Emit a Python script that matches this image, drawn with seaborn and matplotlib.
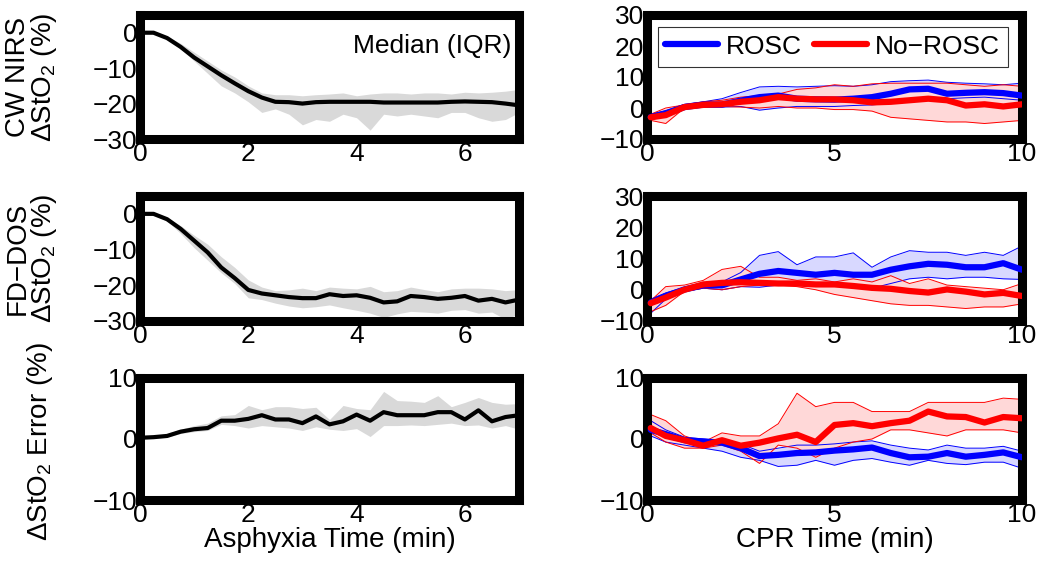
"""
plot.py - StO2 change during asphyxia and CPR (CW NIRS vs FD-DOS).
Saves out.png.
"""
import numpy as np
import matplotlib
matplotlib.use('Agg')
import matplotlib.pyplot as plt
import seaborn as sns

# ---- Data ---------------------------------------------------------------
asph_t = [0, 0.25, 0.5, 0.75, 1.0, 1.25, 1.5, 1.75, 2.0, 2.25, 2.5, 2.75, 3.0, 3.25,
          3.5, 3.75, 4.0, 4.25, 4.5, 4.75, 5.0, 5.25, 5.5, 5.75, 6.0, 6.25, 6.5, 6.75, 7.0]

cw_med = [0, 0, -1.5, -4, -7, -9.5, -12, -14.3, -16.5, -18.3, -19.5, -19.6, -20, -19.6,
          -19.5, -19.5, -19.5, -19.5, -19.7, -19.7, -19.7, -19.7, -19.7, -19.5, -19.4,
          -19.5, -19.6, -20, -20.5]
cw_q1 = [0, -0.2, -1.8, -4.5, -8, -11.5, -15, -17, -19.5, -22.5, -21.5, -23, -26, -24.5,
         -25, -23, -24, -27.5, -23, -23.5, -23, -23.5, -24, -22.5, -22.5, -24, -25, -24.5, -22.5]
cw_q3 = [0, 0, -1, -3, -5.5, -8, -10.5, -12.5, -15, -17, -17.5, -17.5, -17.8, -17.5,
         -17.3, -17, -17.8, -17.3, -17, -17, -17.3, -17, -17, -17.3, -16.8, -17, -16.8, -16.5, -16]

fd_med = [0, 0, -1.5, -4.2, -7.5, -10.8, -15, -18, -21.3, -22.3, -22.8, -23.3, -23.6, -23.6,
          -22.5, -23, -22.8, -23.5, -24.8, -24.5, -23, -23.3, -23.8, -23.5, -23, -24.3,
          -23.8, -24.8, -24]
fd_q1 = [0, -0.3, -2, -5.5, -9.5, -13, -16.5, -19.5, -23.5, -24, -25, -25.8, -26.3, -26,
         -25.5, -26.3, -27, -27.8, -29, -28, -27.3, -27.5, -27.8, -27, -26.8, -27.8, -27.5, -29.5, -28]
fd_q3 = [0, 0, -1, -3.3, -6, -8.5, -12, -15, -18.5, -20.5, -21.5, -21.3, -20.8, -21.5,
         -20.5, -20.8, -21, -20.3, -21.8, -21.5, -20.5, -21.2, -21.8, -21, -20.8, -20.8, -21, -21.5, -21.2]

err_med = [0.2, 0.3, 0.5, 1.2, 1.6, 1.8, 3.0, 3.0, 3.3, 3.9, 3.2, 3.2, 2.6, 3.7, 2.4, 2.9,
           4.0, 3.0, 4.4, 3.9, 3.9, 3.9, 4.4, 4.4, 3.2, 4.7, 2.9, 3.6, 3.9]
err_q1 = [0, 0.1, 0.3, 0.9, 1.2, 1.4, 2.4, 2.2, 1.8, 2.2, 2.0, 1.8, 1.4, 2.0, 1.6, 1.4,
          1.7, 0.4, 2.2, 2.2, 2.3, 2.2, 2.4, 2.6, 2.2, 2.3, 1.8, 2.2, 1.6]
err_q3 = [0.3, 0.5, 0.9, 1.6, 2.2, 2.6, 3.8, 4.0, 5.5, 4.8, 5.3, 5.3, 5.0, 5.2, 3.2, 5.5,
          5.0, 4.8, 7.8, 6.3, 6.2, 6.0, 7.1, 5.3, 6.0, 6.8, 6.0, 5.7, 5.8]

cpr_t = [0.1, 0.5, 1.0, 1.5, 2.0, 2.5, 3.0, 3.5, 4.0, 4.5, 5.0, 5.5, 6.0, 6.5, 7.0,
         7.5, 8.0, 8.5, 9.0, 9.5, 10.0]

cw_rosc = [-2.9, -1.8, 0.3, 1.1, 1.1, 2.4, 3.5, 4.0, 3.0, 2.8, 2.7, 3.0, 3.5, 4.6, 6.0,
           6.2, 4.6, 4.9, 5.1, 4.8, 4.0]
cw_rosc_lo = [-3.8, -2.5, -0.3, 0.3, 0.3, 0.5, -0.7, 0, 0.5, 0.5, 0.5, 0.8, 1.0, 1.5, 2.5,
              3.0, 3.0, 3.3, 3.5, 3.0, 2.5]
cw_rosc_hi = [-2.0, -0.8, 1.2, 2.0, 3.0, 5.0, 6.8, 7.0, 6.8, 7.0, 7.2, 7.0, 7.5, 8.5, 8.8,
              9.0, 8.3, 8.0, 7.8, 7.5, 8.0]
cw_nor = [-3.0, -2.3, 0.3, 1.0, 1.2, 2.0, 2.5, 3.5, 3.0, 2.8, 2.8, 2.5, 1.8, 2.0, 2.5,
          3.0, 2.5, 0.8, 1.2, 0.5, 1.2]
cw_nor_lo = [-4.0, -5.0, 0.0, 0.5, 0.5, 0.3, 0.0, 0.5, 0.0, 0.0, -0.5, -0.5, -1.0, -3.0,
             -3.5, -4.0, -4.5, -4.5, -5.0, -4.5, -4.0]
cw_nor_hi = [-2.0, 0.0, 1.0, 2.0, 2.5, 3.5, 4.0, 4.5, 6.0, 6.5, 7.5, 7.0, 7.8, 8.0, 8.0,
             8.0, 8.0, 7.5, 7.0, 7.5, 7.0]

fd_rosc = [-4.1, -2.0, 0.1, 1.4, 1.4, 3.3, 5.1, 6.0, 5.4, 4.8, 5.4, 4.8, 4.8, 6.4, 7.5,
           8.3, 8.0, 7.2, 7.2, 8.5, 6.4]
fd_rosc_lo = [-7.5, -3.0, -0.5, 0.5, 0.0, 1.0, 0.8, 1.5, 2.0, 1.8, 1.5, 1.0, 0.5, 2.0,
              3.5, 4.0, 3.5, 4.0, 4.0, 3.5, 3.3]
fd_rosc_hi = [-3.0, -1.0, 0.8, 2.2, 2.5, 5.5, 11.0, 12.2, 8.0, 10.5, 10.5, 11.8, 7.2, 10.5,
              12.5, 12.0, 12.0, 11.0, 12.0, 11.0, 14.0]
fd_nor = [-4.3, -2.5, 0.0, 1.7, 2.2, 2.4, 2.2, 2.0, 2.0, 1.7, 1.7, 1.2, 0.6, 0.3, -0.4,
          -0.9, 0.1, -0.6, -1.5, -1.0, -2.0]
fd_nor_lo = [-7.0, -5.0, -0.5, 0.5, 0.0, 1.0, 1.5, 1.5, 1.0, 0.0, -1.5, -2.5, -3.5, -4.5,
             -5.0, -5.0, -5.5, -6.0, -5.5, -5.5, -4.5]
fd_nor_hi = [-3.5, 1.0, 1.5, 3.0, 6.5, 7.5, 4.0, 4.0, 3.0, 3.5, 2.5, 3.5, 2.5, 4.5, 2.0,
             3.5, 1.5, 1.0, 0.5, 0.0, 2.0]

err_rosc = [1.5, 0.8, -0.2, -0.4, -0.6, -1.5, -2.8, -2.6, -2.3, -2.2, -1.9, -1.7, -1.4,
            -2.3, -3.0, -2.9, -2.3, -2.9, -2.6, -2.2, -3.0]
err_rosc_lo = [0.5, -0.5, -1.0, -1.5, -2.0, -3.0, -3.5, -4.5, -4.3, -3.5, -4.3, -3.5, -3.2,
               -3.8, -4.3, -3.5, -4.0, -4.2, -3.8, -3.8, -4.8]
err_rosc_hi = [3.0, 1.5, 0.3, 0.0, -0.3, -0.8, -2.0, -1.5, -1.0, -1.0, -0.8, -0.5, -0.3,
               -1.0, -1.5, -1.8, -1.0, -1.5, -1.5, -1.2, -2.0]
err_nor = [1.8, 0.5, -0.2, -1.1, -0.2, -1.1, -0.6, 0.1, 0.7, -0.5, 2.3, 2.6, 2.1, 2.6,
           3.0, 4.5, 3.7, 3.6, 2.7, 3.6, 3.4]
err_nor_lo = [1.0, -0.5, -1.5, -1.5, -1.0, -2.0, -4.0, -1.0, -1.5, -3.0, -1.5, -0.5, 0.0,
              1.5, 1.5, 1.0, 0.5, 1.5, 1.5, 1.5, 1.0]
err_nor_hi = [4.0, 3.0, 0.5, -0.5, 1.0, 0.5, 0.5, 2.5, 7.5, 5.3, 6.0, 6.0, 4.5, 4.5, 4.5,
              6.0, 6.0, 6.0, 6.0, 6.7, 6.5]

# ---- Style --------------------------------------------------------------
sns.set_style('white')
plt.rcParams['font.family'] = ['Liberation Sans', 'DejaVu Sans']
plt.rcParams['mathtext.fontset'] = 'custom'
plt.rcParams['mathtext.rm'] = 'Liberation Sans'
plt.rcParams['mathtext.it'] = 'Liberation Sans:italic'
for key in ['text.color', 'axes.labelcolor', 'xtick.color', 'ytick.color']:
    plt.rcParams[key] = 'black'
FS = 19
W, H = 1042, 575


def frame(ax, xlim, ylim, xticks, yticks):
    ax.set_xlim(*xlim)
    ax.set_ylim(*ylim)
    ax.set_xticks(xticks)
    ax.set_yticks(yticks)
    ax.tick_params(length=0, pad=2, labelsize=FS)
    for sp in ax.spines.values():
        sp.set_visible(True)
        sp.set_linewidth(6.5)
        sp.set_color('black')
    ax.set_xlabel('')
    ax.set_ylabel('')


def median_panel(ax, med, q1, q3, ylim, yticks):
    ax.fill_between(asph_t, q1, q3, color='#d9d9d9', linewidth=0, zorder=1)
    sns.lineplot(x=asph_t, y=med, ax=ax, color='black', linewidth=3, zorder=3)
    frame(ax, (0, 7), ylim, [0, 2, 4, 6], yticks)


def group_panel(ax, series, ylim, yticks, legend=False):
    for mean, lo, hi, col, fill, lab in series:
        ax.fill_between(cpr_t, lo, hi, color=fill, linewidth=0, zorder=1)
        ax.plot(cpr_t, lo, color=col, linewidth=0.7, zorder=2)
        ax.plot(cpr_t, hi, color=col, linewidth=0.7, zorder=2)
        sns.lineplot(x=cpr_t, y=mean, ax=ax, color=col, linewidth=4.5, zorder=3, label=lab)
    frame(ax, (0, 10), ylim, [0, 5, 10], yticks)
    if legend:
        leg = ax.legend(loc='upper center', ncol=2, fontsize=FS, frameon=True, fancybox=False,
                        edgecolor='black', handlelength=2.0, columnspacing=0.45,
                        handletextpad=0.3, borderpad=0.3, borderaxespad=0,
                        bbox_to_anchor=(0.495, 0.905))
        leg.get_frame().set_linewidth(0.8)
    else:
        ax.get_legend().remove()


fig = plt.figure(figsize=(W / 100, H / 100), dpi=100)
rows = [(15, 139), (196, 321), (378, 500)]
cols = [(140, 519), (647, 1022)]
axes = [[fig.add_axes([c0 / W, 1 - r1 / H, (c1 - c0) / W, (r1 - r0) / H])
         for (c0, c1) in cols] for (r0, r1) in rows]

BLUE, RED = '#0000ff', '#ff0000'
BFILL, RFILL = '#d8d8ff', '#ffd8d8'

median_panel(axes[0][0], cw_med, cw_q1, cw_q3, (-30, 5), [0, -10, -20, -30])
median_panel(axes[1][0], fd_med, fd_q1, fd_q3, (-30, 5), [0, -10, -20, -30])
median_panel(axes[2][0], err_med, err_q1, err_q3, (-10, 10), [-10, 0, 10])
axes[0][0].text(0.98, 0.75, 'Median (IQR)', transform=axes[0][0].transAxes,
                ha='right', va='center', fontsize=FS)

group_panel(axes[0][1], [(cw_rosc, cw_rosc_lo, cw_rosc_hi, BLUE, BFILL, 'ROSC'),
                         (cw_nor, cw_nor_lo, cw_nor_hi, RED, RFILL, 'No\u2212ROSC')],
            (-10, 30), [-10, 0, 10, 20, 30], legend=True)
group_panel(axes[1][1], [(fd_rosc, fd_rosc_lo, fd_rosc_hi, BLUE, BFILL, 'ROSC'),
                         (fd_nor, fd_nor_lo, fd_nor_hi, RED, RFILL, 'No\u2212ROSC')],
            (-10, 30), [-10, 0, 10, 20, 30])
group_panel(axes[2][1], [(err_rosc, err_rosc_lo, err_rosc_hi, BLUE, BFILL, 'ROSC'),
                         (err_nor, err_nor_lo, err_nor_hi, RED, RFILL, 'No\u2212ROSC')],
            (-10, 10), [-10, 0, 10])

axes[2][0].set_xlabel('Asphyxia Time (min)', fontsize=FS + 1, labelpad=0)
axes[2][1].set_xlabel('CPR Time (min)', fontsize=FS + 1, labelpad=0)

fig.text(32 / W, 1 - 77 / H, 'CW NIRS\n\u0394StO$_2$ (%)', rotation=90, ha='center',
         va='center', fontsize=FS + 1, linespacing=0.95, multialignment='center')
fig.text(32 / W, 1 - 258 / H, 'FD\u2212DOS\n\u0394StO$_2$ (%)', rotation=90, ha='center',
         va='center', fontsize=FS + 1, linespacing=0.95, multialignment='center')
fig.text(40 / W, 1 - 442 / H, '\u0394StO$_2$ Error (%)', rotation=90, ha='center',
         va='center', fontsize=FS + 1)

fig.savefig('out.png', dpi=100, facecolor='white')
